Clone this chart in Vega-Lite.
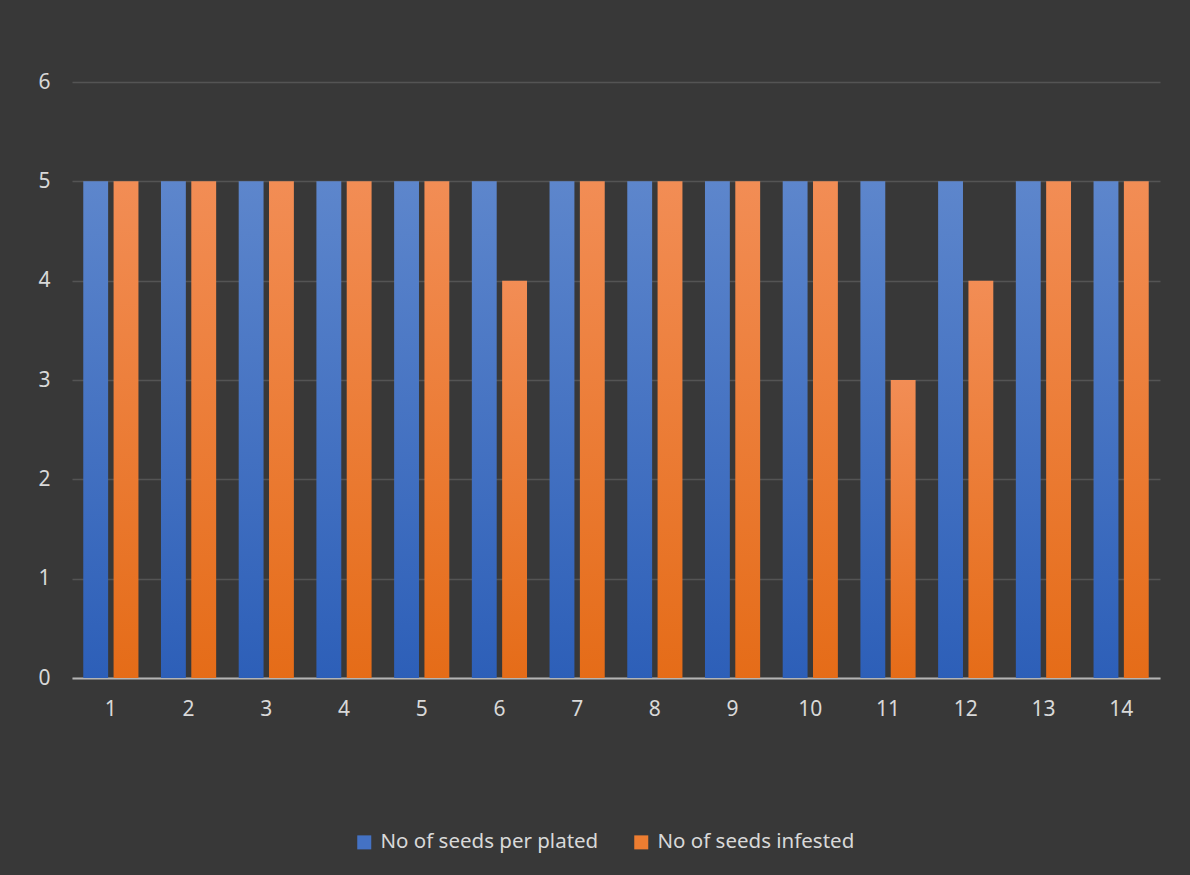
{
  "$schema": "https://vega.github.io/schema/vega-lite/v6.json",
  "width": 1088,
  "height": 596,
  "autosize": "none",
  "padding": {"left": 72, "top": 82, "right": 30, "bottom": 197},
  "background": "#383838",
  "config": {
    "view": {"stroke": null},
    "font": "Noto Sans"
  },
  "data": {
    "values": [
      {"n": 1, "series": "No of seeds per plated", "v": 5}, {"n": 1, "series": "No of seeds infested", "v": 5},
      {"n": 2, "series": "No of seeds per plated", "v": 5}, {"n": 2, "series": "No of seeds infested", "v": 5},
      {"n": 3, "series": "No of seeds per plated", "v": 5}, {"n": 3, "series": "No of seeds infested", "v": 5},
      {"n": 4, "series": "No of seeds per plated", "v": 5}, {"n": 4, "series": "No of seeds infested", "v": 5},
      {"n": 5, "series": "No of seeds per plated", "v": 5}, {"n": 5, "series": "No of seeds infested", "v": 5},
      {"n": 6, "series": "No of seeds per plated", "v": 5}, {"n": 6, "series": "No of seeds infested", "v": 4},
      {"n": 7, "series": "No of seeds per plated", "v": 5}, {"n": 7, "series": "No of seeds infested", "v": 5},
      {"n": 8, "series": "No of seeds per plated", "v": 5}, {"n": 8, "series": "No of seeds infested", "v": 5},
      {"n": 9, "series": "No of seeds per plated", "v": 5}, {"n": 9, "series": "No of seeds infested", "v": 5},
      {"n": 10, "series": "No of seeds per plated", "v": 5}, {"n": 10, "series": "No of seeds infested", "v": 5},
      {"n": 11, "series": "No of seeds per plated", "v": 5}, {"n": 11, "series": "No of seeds infested", "v": 3},
      {"n": 12, "series": "No of seeds per plated", "v": 5}, {"n": 12, "series": "No of seeds infested", "v": 4},
      {"n": 13, "series": "No of seeds per plated", "v": 5}, {"n": 13, "series": "No of seeds infested", "v": 5},
      {"n": 14, "series": "No of seeds per plated", "v": 5}, {"n": 14, "series": "No of seeds infested", "v": 5}
    ]
  },
  "encoding": {
    "x": {
      "field": "n", "type": "ordinal", "title": null,
      "scale": {"paddingInner": 0.29, "paddingOuter": 0.145},
      "axis": {"labelAngle": 0, "ticks": false, "domain": true, "domainColor": "#b4b4b4", "domainWidth": 2, "grid": false, "labelPadding": 20,
        "labelColor": "#d9d9d9", "labelFontSize": 21, "labelFont": "Noto Sans"}
    },
    "xOffset": {
      "field": "series", "type": "nominal",
      "sort": ["No of seeds per plated", "No of seeds infested"],
      "scale": {"paddingInner": 0.18, "paddingOuter": 0}
    },
    "y": {
      "field": "v", "type": "quantitative", "title": null,
      "scale": {"domain": [0, 6]},
      "axis": {"values": [0, 1, 2, 3, 4, 5, 6], "ticks": false, "domain": false, "gridColor": "#545454", "gridWidth": 1.5, "labelPadding": 22,
        "labelColor": "#d9d9d9", "labelFontSize": 21, "labelFont": "Noto Sans", "labelOverlap": false}
    }
  },
  "layer": [
    {
      "transform": [{"filter": "datum.series === 'No of seeds per plated'"}],
      "mark": {
        "type": "bar",
        "fill": {"gradient": "linear", "x1": 0, "y1": 0, "x2": 0, "y2": 1,
          "stops": [{"offset": 0, "color": "#5d86cc"}, {"offset": 1, "color": "#2d5fb8"}]}
      }
    },
    {
      "transform": [{"filter": "datum.series === 'No of seeds infested'"}],
      "mark": {
        "type": "bar",
        "fill": {"gradient": "linear", "x1": 0, "y1": 0, "x2": 0, "y2": 1,
          "stops": [{"offset": 0, "color": "#f28d55"}, {"offset": 1, "color": "#e56c18"}]}
      }
    },
    {
      "mark": {"type": "bar", "opacity": 0},
      "encoding": {
        "color": {
          "field": "series", "type": "nominal",
          "sort": ["No of seeds per plated", "No of seeds infested"],
          "scale": {"domain": ["No of seeds per plated", "No of seeds infested"], "range": ["#4472c4", "#ed7d31"]},
          "legend": {
            "title": null, "orient": "none", "direction": "horizontal",
            "legendX": 282, "legendY": 750,
            "symbolType": "square", "symbolSize": 196, "symbolOpacity": 1, "symbolStrokeWidth": 0,
            "labelOffset": 6, "columnPadding": 32, "labelLimit": 0,
            "labelColor": "#d9d9d9", "labelFontSize": 20.5, "labelFont": "Noto Sans"
          }
        }
      }
    }
  ]
}
